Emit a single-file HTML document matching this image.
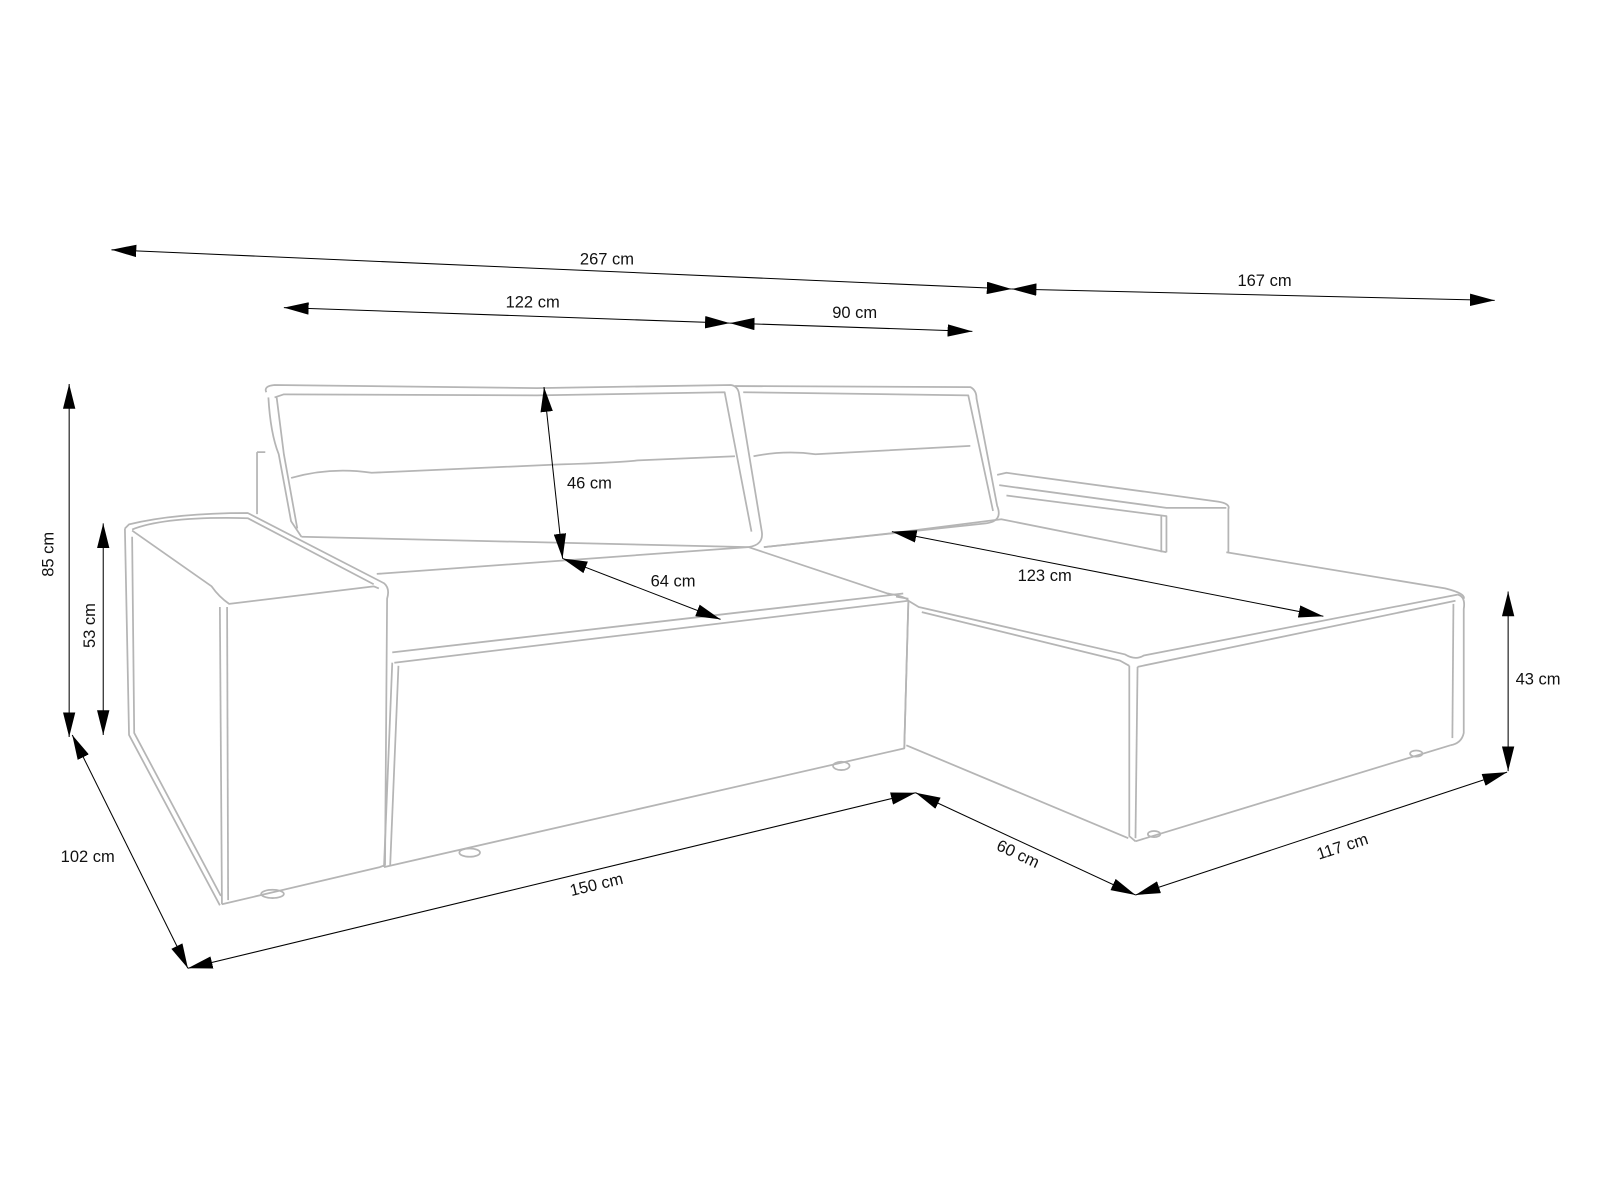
<!DOCTYPE html>
<html><head><meta charset="utf-8"><style>
html,body{margin:0;padding:0;background:#fff;}
svg{display:block;}
text{font-family:"Liberation Sans",sans-serif;font-size:16px;fill:#111;}
</style></head><body>
<svg width="1600" height="1200" viewBox="0 0 1550 1162.5" xmlns="http://www.w3.org/2000/svg">
<defs>
<marker id="ar" viewBox="0 0 24 12" refX="24" refY="6" markerWidth="24" markerHeight="12" markerUnits="userSpaceOnUse" orient="auto-start-reverse"><path d="M0,0 L24,6 L0,12 z" fill="#000"/></marker>
</defs>
<g fill="none" stroke="#b5b5b5" stroke-width="1.7" stroke-linejoin="round">
<!-- left back cushion -->
<path d="M258,380 Q255,374 266,373 L520,376 L708,373 Q715,374 716,382 L738,515 Q740,528 725,530 L292,520"/>
<path d="M266,385 L275,382 L520,383 L702,380 L728,515"/>
<path d="M260,385 Q262,420 270,440 L282,505 L292,520"/>
<path d="M268,385 L275,440 L288,512"/>
<path d="M282,463 Q320,452 360,458 L540,450 Q600,448 618,446 L712,442"/>
<path d="M249,438 L257,438 M249,438 L249,498"/>
<!-- right back cushion -->
<path d="M712,374 L940,375 Q946,378 946,386 L966,490 Q972,505 955,507 L740,530"/>
<path d="M720,380 L938,383 L962,495"/>
<path d="M730,442 Q760,436 790,440 L940,432"/>
<!-- chaise arm -->
<path d="M966,460 L975,458 L1180,486 Q1192,488 1190,493 L1190,535"/>
<path d="M968,470 L1130,492 L1188,492"/>
<path d="M975,480 L1130,500 L1130,535"/>
<path d="M1125,500 L1125,535"/>
<!-- chaise seat top -->
<path d="M1188,535 L1400,570 Q1420,575 1418,580"/>
<path d="M740,530 L860,517 L970,503 L1130,535"/>
<path d="M868,578 L880,580"/>
<!-- left seat cushion -->
<path d="M365,556 L725,530 L860,575 Q878,578 880,582"/>
<path d="M380,632 L875,575"/>
<path d="M382,642 L880,582"/>
<!-- left base front -->
<path d="M380,642 L372,840"/>
<path d="M386,645 L378,838"/>
<path d="M372,840 L876,725 L880,582"/>
<ellipse cx="455" cy="826" rx="10" ry="4"/>
<ellipse cx="815" cy="742" rx="8" ry="4"/>
<!-- left arm -->
<path d="M121,512 L125,508 Q170,497 240,497 L372,565 Q378,570 375,580 L373,838 L368,840 L215,876"/>
<path d="M128,513 Q160,500 240,502 L362,566"/>
<path d="M128,514 L205,568 Q212,578 222,585 L362,568 L367,570"/>
<path d="M121,512 L125,712 L213,877"/>
<path d="M128,520 L130,710 L214,868"/>
<path d="M213,588 L215,876"/>
<path d="M220,588 L221,872"/>
<ellipse cx="264" cy="866" rx="11" ry="4"/>
<!-- chaise body -->
<path d="M880,582 L890,588 L1090,634 Q1100,640 1108,635 L1412,576"/>
<path d="M893,593 L1085,640 L1094,645"/>
<path d="M1102,646 L1410,582"/>
<path d="M1412,576 Q1420,578 1418,590 L1418,710 Q1416,720 1405,722"/>
<path d="M1408,585 L1407,715"/>
<path d="M1094,645 L1094,810 L1100,815"/>
<path d="M1102,646 L1100,812"/>
<path d="M878,722 L1093,812 M1100,815 L1405,722"/>
<path d="M876,725 L880,582"/>
<ellipse cx="1118" cy="808" rx="6" ry="3"/>
<ellipse cx="1372" cy="730" rx="6" ry="3"/>
</g>
<g stroke="#000" stroke-width="1" fill="none">
<line x1="108" y1="242" x2="980" y2="280" marker-start="url(#ar)" marker-end="url(#ar)"/>
<line x1="980" y1="280" x2="1448" y2="291" marker-start="url(#ar)" marker-end="url(#ar)"/>
<line x1="275" y1="298" x2="707" y2="313" marker-start="url(#ar)" marker-end="url(#ar)"/>
<line x1="707" y1="313" x2="942" y2="321" marker-start="url(#ar)" marker-end="url(#ar)"/>
<line x1="67" y1="372" x2="67" y2="714" marker-start="url(#ar)" marker-end="url(#ar)"/>
<line x1="100" y1="507" x2="100" y2="712" marker-start="url(#ar)" marker-end="url(#ar)"/>
<line x1="527" y1="375" x2="545" y2="541" marker-start="url(#ar)" marker-end="url(#ar)"/>
<line x1="545" y1="541" x2="698" y2="600" marker-start="url(#ar)" marker-end="url(#ar)"/>
<line x1="864" y1="515" x2="1282" y2="597" marker-start="url(#ar)" marker-end="url(#ar)"/>
<line x1="1461" y1="573" x2="1461" y2="747" marker-start="url(#ar)" marker-end="url(#ar)"/>
<line x1="70" y1="712" x2="182" y2="938" marker-start="url(#ar)" marker-end="url(#ar)"/>
<line x1="182" y1="938" x2="887" y2="768" marker-start="url(#ar)" marker-end="url(#ar)"/>
<line x1="887" y1="768" x2="1100" y2="867" marker-start="url(#ar)" marker-end="url(#ar)"/>
<line x1="1100" y1="867" x2="1460" y2="748" marker-start="url(#ar)" marker-end="url(#ar)"/>
</g>
<g text-anchor="middle">
<text x="588" y="256">267 cm</text>
<text x="1225" y="277">167 cm</text>
<text x="516" y="298">122 cm</text>
<text x="828" y="308">90 cm</text>
<text x="571" y="473">46 cm</text>
<text x="652" y="568">64 cm</text>
<text x="1012" y="563">123 cm</text>
<text x="1490" y="663">43 cm</text>
<text x="85" y="835">102 cm</text>
<text transform="translate(52,537) rotate(-90)">85 cm</text>
<text transform="translate(92,606) rotate(-90)">53 cm</text>
<text transform="translate(579,862) rotate(-13.5)">150 cm</text>
<text transform="translate(984,832) rotate(25)">60 cm</text>
<text transform="translate(1302,825) rotate(-18)">117 cm</text>
</g>
</svg>
</body></html>
